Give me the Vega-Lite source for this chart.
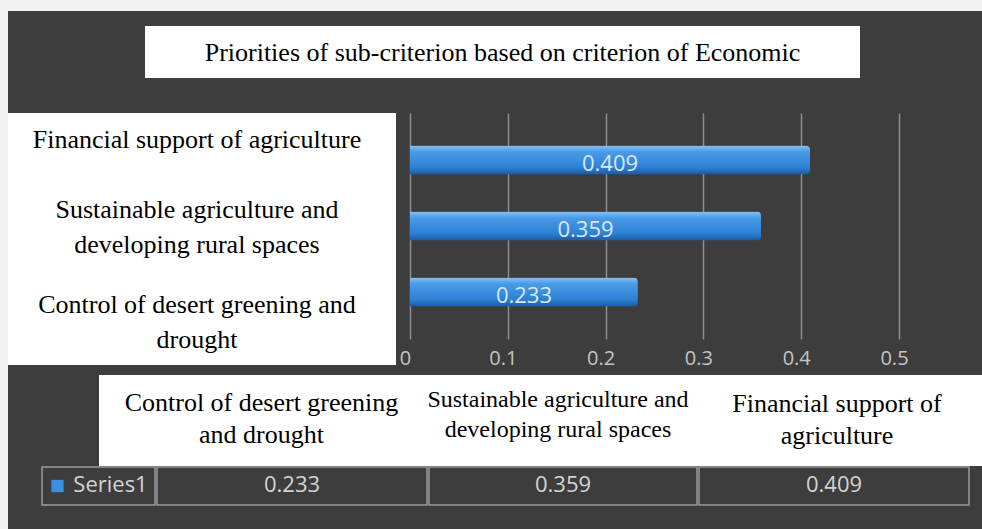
{
  "$schema": "https://vega.github.io/schema/vega-lite/v6.json",
  "padding": 0,
  "background": "#3d3d3d",
  "spacing": 0,
  "config": {"view": {"stroke": null}, "text": {"lineBreak": "\n"}},
  "datasets": {
    "items": [
      {"key": "con", "value": 0.233, "leftLabel": "Control of desert greening and\ndrought", "headLabel": "Control of desert greening\nand drought"},
      {"key": "sus", "value": 0.359, "leftLabel": "Sustainable agriculture and\ndeveloping rural spaces", "headLabel": "Sustainable agriculture and\ndeveloping rural spaces"},
      {"key": "fin", "value": 0.409, "leftLabel": "Financial support of agriculture", "headLabel": "Financial support of\nagriculture"}
    ],
    "title": [{"text": "Priorities of sub-criterion based on criterion of Economic"}],
    "series": [{"name": "Series1"}],
    "none": []
  },
  "hconcat": [
    {"data": {"name": "none"}, "mark": "point", "width": 8, "height": 529, "view": {"fill": "#f2f2f2"}},
    {
      "spacing": 0,
      "vconcat": [
        {"data": {"name": "none"}, "mark": "point", "width": 974, "height": 11, "view": {"fill": "#f2f2f2"}},
        {"data": {"name": "none"}, "mark": "point", "width": 974, "height": 15},
        {
          "spacing": 0,
          "hconcat": [
            {"data": {"name": "none"}, "mark": "point", "width": 137, "height": 52},
            {
              "data": {"name": "title"},
              "mark": {"type": "text", "font": "Liberation Serif", "fontSize": 26, "color": "#000000", "baseline": "middle", "dy": 1},
              "encoding": {"text": {"field": "text"}},
              "width": 715, "height": 52,
              "view": {"fill": "#ffffff"}
            }
          ]
        },
        {"data": {"name": "none"}, "mark": "point", "width": 974, "height": 35},
        {
          "spacing": 0,
          "hconcat": [
            {
              "spacing": 0,
              "bounds": "flush",
              "vconcat": [
                {
                  "data": {"name": "items"},
                  "transform": [{"filter": {"field": "key", "equal": "fin"}}],
                  "mark": {"type": "text", "font": "Liberation Serif", "fontSize": 26, "color": "#000000", "lineHeight": 35, "baseline": "middle", "dx": -5},
                  "encoding": {"text": {"field": "leftLabel"}},
                  "width": 388, "height": 54,
                  "view": {"fill": "#ffffff"}
                },
                {
                  "data": {"name": "items"},
                  "transform": [{"filter": {"field": "key", "equal": "sus"}}],
                  "mark": {"type": "text", "font": "Liberation Serif", "fontSize": 26, "color": "#000000", "lineHeight": 35, "baseline": "middle", "dx": -5, "dy": -4},
                  "encoding": {"text": {"field": "leftLabel"}},
                  "width": 388, "height": 94,
                  "view": {"fill": "#ffffff"}
                },
                {
                  "data": {"name": "items"},
                  "transform": [{"filter": {"field": "key", "equal": "con"}}],
                  "mark": {"type": "text", "font": "Liberation Serif", "fontSize": 26, "color": "#000000", "lineHeight": 35, "baseline": "middle", "dx": -5, "dy": -8},
                  "encoding": {"text": {"field": "leftLabel"}},
                  "width": 388, "height": 104,
                  "view": {"fill": "#ffffff"}
                }
              ]
            },
            {"data": {"name": "none"}, "mark": "point", "width": 3, "height": 252},
            {
              "data": {"name": "items"},
              "width": 489, "height": 226,
              "layer": [
                {
                  "mark": {
                    "type": "bar", "cornerRadiusEnd": 4,
                    "fill": {"gradient": "linear", "x1": 0, "y1": 0, "x2": 0, "y2": 1,
                      "stops": [
                        {"offset": 0, "color": "#86c4f7"},
                        {"offset": 0.22, "color": "#4a9ae6"},
                        {"offset": 0.75, "color": "#2d82d6"},
                        {"offset": 1, "color": "#1b5aa2"}
                      ]}
                  },
                  "encoding": {
                    "y": {"field": "key", "type": "nominal", "sort": ["fin", "sus", "con"], "scale": {"paddingInner": 0.56, "paddingOuter": 0.492}, "axis": null},
                    "x": {
                      "field": "value", "type": "quantitative",
                      "scale": {"domain": [0, 0.5], "nice": false},
                      "axis": {
                        "title": null, "values": [0, 0.1, 0.2, 0.3, 0.4, 0.5], "format": ".1~f",
                        "domain": false, "ticks": false, "tickSize": 0,
                        "grid": true, "gridColor": "#8e8e8e", "gridWidth": 1.5,
                        "labelColor": "#c4c4c4", "labelFont": "Open Sans", "labelFontSize": 20,
                        "labelPadding": 9, "labelFlush": false, "labelOffset": -5
                      }
                    }
                  }
                },
                {
                  "mark": {"type": "text", "font": "Open Sans", "fontSize": 22, "color": "#dde8f4", "baseline": "middle", "dy": 4},
                  "encoding": {
                    "y": {"field": "key", "type": "nominal", "sort": ["fin", "sus", "con"], "axis": null},
                    "x": {"field": "value", "type": "quantitative", "scale": {"domain": [0, 1], "nice": false}, "axis": null},
                    "text": {"field": "value", "type": "quantitative", "format": ".3f"}
                  }
                }
              ],
              "resolve": {"scale": {"x": "independent"}}
            }
          ]
        },
        {"data": {"name": "none"}, "mark": "point", "width": 974, "height": 7},
        {
          "spacing": 0,
          "hconcat": [
            {"data": {"name": "none"}, "mark": "point", "width": 91, "height": 91},
            {
              "data": {"name": "items"},
              "transform": [{"filter": {"field": "key", "equal": "con"}}],
              "mark": {"type": "text", "font": "Liberation Serif", "fontSize": 26, "lineHeight": 32, "color": "#000000", "baseline": "middle", "dy": -18},
              "encoding": {"text": {"field": "headLabel"}},
              "width": 325, "height": 91,
              "view": {"fill": "#ffffff"}
            },
            {
              "data": {"name": "items"},
              "transform": [{"filter": {"field": "key", "equal": "sus"}}],
              "mark": {"type": "text", "font": "Liberation Serif", "fontSize": 24, "lineHeight": 30, "color": "#000000", "baseline": "middle", "dy": -21},
              "encoding": {"text": {"field": "headLabel"}},
              "width": 268, "height": 91,
              "view": {"fill": "#ffffff"}
            },
            {
              "data": {"name": "items"},
              "transform": [{"filter": {"field": "key", "equal": "fin"}}],
              "mark": {"type": "text", "font": "Liberation Serif", "fontSize": 26, "lineHeight": 32, "color": "#000000", "baseline": "middle", "dy": -17},
              "encoding": {"text": {"field": "headLabel"}},
              "width": 290, "height": 91,
              "view": {"fill": "#ffffff"}
            }
          ]
        },
        {
          "spacing": 0,
          "hconcat": [
            {"data": {"name": "none"}, "mark": "point", "width": 33, "height": 38},
            {
              "data": {"name": "series"},
              "layer": [
                {"mark": {"type": "point", "shape": "square", "filled": true, "size": 150, "opacity": 1, "color": "#3a90e2", "xOffset": -41}, "encoding": {}},
                {"mark": {"type": "text", "font": "Open Sans", "fontSize": 22, "color": "#d4d4d4", "baseline": "middle", "dx": 12, "dy": -1}, "encoding": {"text": {"field": "name"}}}
              ],
              "width": 113, "height": 38,
              "view": {"stroke": "#9a9a9a", "strokeWidth": 1.5}
            },
            {
              "data": {"name": "items"},
              "transform": [{"filter": {"field": "key", "equal": "con"}}],
              "mark": {"type": "text", "font": "Open Sans", "fontSize": 22, "color": "#d4d4d4", "baseline": "middle", "dy": -1},
              "encoding": {"text": {"field": "value", "type": "quantitative", "format": ".3f"}},
              "width": 270, "height": 38,
              "view": {"stroke": "#9a9a9a", "strokeWidth": 1.5}
            },
            {
              "data": {"name": "items"},
              "transform": [{"filter": {"field": "key", "equal": "sus"}}],
              "mark": {"type": "text", "font": "Open Sans", "fontSize": 22, "color": "#d4d4d4", "baseline": "middle", "dy": -1},
              "encoding": {"text": {"field": "value", "type": "quantitative", "format": ".3f"}},
              "width": 268, "height": 38,
              "view": {"stroke": "#9a9a9a", "strokeWidth": 1.5}
            },
            {
              "data": {"name": "items"},
              "transform": [{"filter": {"field": "key", "equal": "fin"}}],
              "mark": {"type": "text", "font": "Open Sans", "fontSize": 22, "color": "#d4d4d4", "baseline": "middle", "dy": -1},
              "encoding": {"text": {"field": "value", "type": "quantitative", "format": ".3f"}},
              "width": 270, "height": 38,
              "view": {"stroke": "#9a9a9a", "strokeWidth": 1.5}
            }
          ]
        },
        {"data": {"name": "none"}, "mark": "point", "width": 974, "height": 25}
      ]
    }
  ]
}
